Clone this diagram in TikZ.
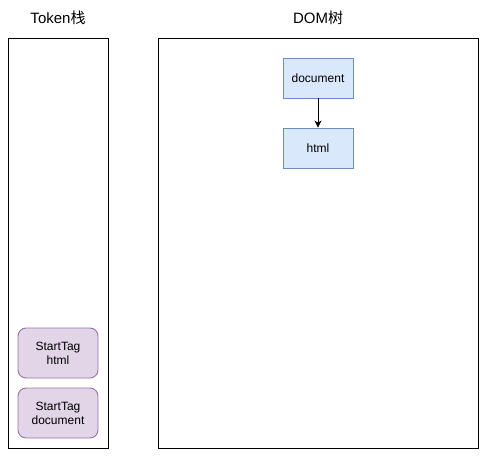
\documentclass[tikz,border=0pt]{standalone}
\usepackage{fontspec}
\setmainfont{Liberation Sans}
\newfontfamily\cjk{Noto Sans CJK SC}
\usepackage{tikz}
\usetikzlibrary{shapes,positioning,arrows.meta}
\definecolor{domfill}{HTML}{DAE8FC}
\definecolor{domline}{HTML}{6C8EBF}
\definecolor{tokfill}{HTML}{E1D5E7}
\definecolor{tokline}{HTML}{9673A6}
\tikzset{panel/.style={draw,line width=0.9pt,minimum width=#1,minimum height=410pt,inner sep=0pt}}
\tikzset{dom/.style={draw=domline,fill=domfill,line width=0.9pt,minimum width=70pt,minimum height=40pt,inner sep=0pt,font=\fontsize{12}{14}\selectfont}}
\tikzset{tok/.style={draw=tokline,fill=tokfill,rounded corners=8pt,line width=0.9pt,minimum width=80pt,minimum height=50pt,inner sep=0pt,align=center,font=\fontsize{12}{14}\selectfont}}
\tikzset{title/.style={font=\fontsize{15}{18}\selectfont}}

\begin{document}
\begin{tikzpicture}[x=1pt,y=-1pt]
\useasboundingbox (0,0) rectangle (487,457);
\node[title] (tokt) at (58,18) {Token{\cjk 栈}};
\node[title] (domt) at (318,18) {DOM{\cjk 树}};
\node[panel=100pt] (stack) at (58,243) {};
\node[panel=320pt] (tree) at (318,243) {};
\node[dom] (doc) at (318,78) {document};
\node[dom] (html) at (318,148) {html};
\node[tok] (thtml) at (58,353) {StartTag\\html};
\node[tok] (tdoc) at (58,413) {StartTag\\document};
\draw[-{Stealth[length=7pt,width=7pt,inset=2pt]},line width=0.9pt] (doc) -- (html);
\end{tikzpicture}
\end{document}
